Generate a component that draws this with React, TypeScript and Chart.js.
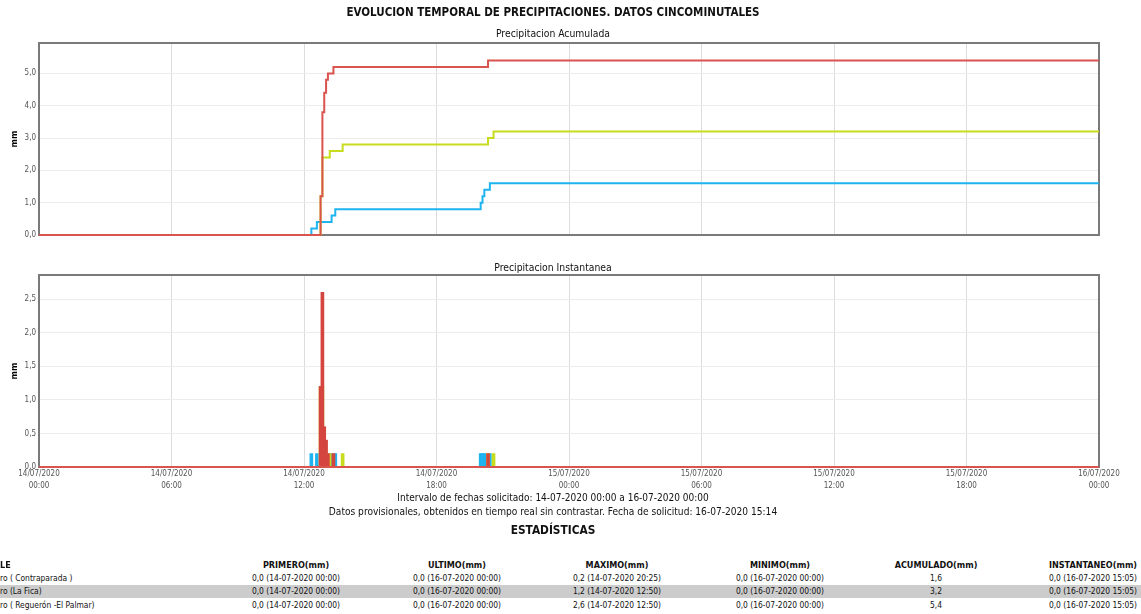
import React, { useEffect, useRef } from "react";
import { Chart, registerables } from "chart.js";

Chart.register(...registerables);

// ---- data (time as "HH:MM" counted from 14/07/2020 00:00) ----
const xTickHours = [0, 6, 12, 18, 24, 30, 36, 42, 48];

const redAccTimes = ["00:00", "12:45", "12:50", "12:55", "13:00", "13:05", "13:20", "20:20", "48:00"];
const redAcc = [0, 1.2, 3.8, 4.4, 4.8, 5.0, 5.2, 5.4, 5.4];
const greenAccTimes = ["00:00", "12:45", "12:50", "13:10", "13:45", "20:20", "20:35", "48:00"];
const greenAcc = [0, 1.2, 2.4, 2.6, 2.8, 3.0, 3.2, 3.2];
const blueAccTimes = ["00:00", "12:20", "12:35", "13:15", "13:25", "20:00", "20:05", "20:10", "20:25", "48:00"];
const blueAcc = [0, 0.2, 0.4, 0.6, 0.8, 1.0, 1.2, 1.4, 1.6, 1.6];

const redInstTimes = ["12:45", "12:50", "12:55", "13:00", "13:05", "13:20", "20:20"];
const redInst = [1.2, 2.6, 0.6, 0.4, 0.2, 0.2, 0.2];
const greenInstTimes = ["12:45", "12:50", "13:10", "13:45", "20:20", "20:35"];
const greenInst = [1.2, 1.2, 0.2, 0.2, 0.2, 0.2];
const blueInstTimes = ["12:20", "12:35", "13:15", "13:25", "20:00", "20:05", "20:10", "20:25"];
const blueInst = [0.2, 0.2, 0.2, 0.2, 0.2, 0.2, 0.2, 0.2];

const tableHeaders = ["LE", "PRIMERO(mm)", "ULTIMO(mm)", "MAXIMO(mm)", "MINIMO(mm)", "ACUMULADO(mm)", "INSTANTANEO(mm)"];
const tableRow1 = ["ro ( Contraparada )", "0,0 (14-07-2020 00:00)", "0,0 (16-07-2020 00:00)", "0,2 (14-07-2020 20:25)", "0,0 (16-07-2020 00:00)", "1,6", "0,0 (16-07-2020 15:05)"];
const tableRow2 = ["ro (La Fica)", "0,0 (14-07-2020 00:00)", "0,0 (16-07-2020 00:00)", "1,2 (14-07-2020 12:50)", "0,0 (16-07-2020 00:00)", "3,2", "0,0 (16-07-2020 15:05)"];
const tableRow3 = ["ro ( Reguerón -El Palmar)", "0,0 (14-07-2020 00:00)", "0,0 (16-07-2020 00:00)", "2,6 (14-07-2020 12:50)", "0,0 (16-07-2020 00:00)", "5,4", "0,0 (16-07-2020 15:05)"];

const RED = "#d9534f";
const GREEN = "#c8dc1e";
const BLUE = "#1eb4f0";
const FONT = "'DejaVu Sans Condensed', 'DejaVu Sans', Tahoma, sans-serif";

const toMin = (s: string) => {
  const [h, m] = s.split(":").map(Number);
  return h * 60 + m;
};
const pts = (times: string[], vals: number[]) => times.map((t, i) => ({ x: toMin(t), y: vals[i] }));
const comma = (v: number) => v.toFixed(1).replace(".", ",");

const frame = {
  id: "frame",
  beforeDatasetsDraw(chart: any) {
    const { ctx, chartArea: a } = chart;
    ctx.save();
    ctx.strokeStyle = "#7a7a7a";
    ctx.lineWidth = 2;
    ctx.strokeRect(a.left, a.top, a.right - a.left, a.bottom - a.top);
    ctx.restore();
  },
};

const xScale = (showLabels: boolean, h: number) => ({
  type: "linear",
  min: 0,
  max: 2880,
  offset: false,
  afterBuildTicks: (s: any) => {
    s.ticks = xTickHours.map((hh) => ({ value: hh * 60 }));
  },
  afterFit: (s: any) => {
    s.height = h;
  },
  grid: { color: "#dcdcdc", drawTicks: false, offset: false },
  border: { display: false },
  ticks: {
    display: showLabels,
    autoSkip: false,
    maxRotation: 0,
    padding: 1,
    color: "#555",
    font: { family: FONT, size: 8, lineHeight: 1.5 },
    callback: (v: number) => {
      const day = 14 + Math.floor(v / 1440);
      const hr = Math.floor((v % 1440) / 60);
      return [`${day}/07/2020`, `${String(hr).padStart(2, "0")}:00`];
    },
  },
});

const yScale = (max: number, step: number) => ({
  min: 0,
  max,
  afterFit: (s: any) => {
    s.width = 39;
  },
  grid: { color: "#ececec", drawTicks: false },
  border: { display: false },
  ticks: {
    stepSize: step,
    includeBounds: false,
    padding: 3,
    color: "#555",
    font: { family: FONT, size: 8 },
    callback: (v: number) => comma(v),
  },
});

function TopChart() {
  const ref = useRef<HTMLCanvasElement>(null);
  useEffect(() => {
    const lineDs = (data: any, color: string) => ({
      data,
      borderColor: color,
      borderWidth: 2,
      stepped: true,
      pointRadius: 0,
      fill: false,
      clip: false,
    });
    const chart = new Chart(ref.current!, {
      type: "line",
      data: {
        datasets: [
          lineDs(pts(redAccTimes, redAcc), RED),
          lineDs(pts(greenAccTimes, greenAcc), GREEN),
          lineDs(pts(blueAccTimes, blueAcc), BLUE),
        ],
      },
      options: {
        responsive: false,
        animation: false,
        layout: { padding: { top: 43, right: 42, left: 0, bottom: 0 } },
        plugins: { legend: { display: false }, tooltip: { enabled: false } },
        scales: { x: xScale(false, 10) as any, y: yScale(5.94, 1) as any },
      },
      plugins: [frame],
    });
    return () => chart.destroy();
  }, []);
  return <canvas ref={ref} width={1141} height={245} style={{ position: "absolute", left: 0, top: 0 }} />;
}

function BottomChart() {
  const ref = useRef<HTMLCanvasElement>(null);
  useEffect(() => {
    const barDs = (data: any, color: string) => ({
      type: "bar",
      data,
      backgroundColor: color,
      barThickness: 3,
      grouped: false,
    });
    const chart = new Chart(ref.current!, {
      type: "bar",
      data: {
        datasets: [
          {
            type: "line",
            data: [{ x: 0, y: 0 }, { x: 2880, y: 0 }],
            borderColor: RED,
            borderWidth: 2,
            pointRadius: 0,
            clip: false,
          } as any,
          barDs(pts(redInstTimes, redInst), "#d5453f"),
          barDs(pts(greenInstTimes, greenInst), GREEN),
          barDs(pts(blueInstTimes, blueInst), BLUE),
        ],
      },
      options: {
        responsive: false,
        animation: false,
        layout: { padding: { top: 35, right: 42, left: 0, bottom: 0 } },
        plugins: { legend: { display: false }, tooltip: { enabled: false } },
        scales: { x: xScale(true, 33) as any, y: yScale(2.86, 0.5) as any },
      },
      plugins: [frame],
    });
    return () => chart.destroy();
  }, []);
  return <canvas ref={ref} width={1141} height={260} style={{ position: "absolute", left: 0, top: 240 }} />;
}

const Txt = ({ x, y, size, bold, children, color }: any) => (
  <div
    style={{
      position: "absolute",
      left: x,
      top: y,
      transform: "translate(-50%, -50%)",
      whiteSpace: "nowrap",
      fontFamily: FONT,
      fontSize: size,
      fontWeight: bold ? "bold" : "normal",
      color: color || "#111",
      lineHeight: 1,
    }}
  >
    {children}
  </div>
);

const colCenters = [0, 296, 457, 617, 780, 936, 1093];
const rowYs = [565, 578, 591, 605];

function Row({ cells, y, bold }: any) {
  const size = bold ? 9 : 8.4;
  return (
    <>
      {cells.map((c: string, i: number) =>
        i === 0 ? (
          <div
            key={i}
            style={{
              position: "absolute",
              left: 0,
              top: y,
              transform: "translateY(-50%)",
              whiteSpace: "nowrap",
              fontFamily: FONT,
              fontSize: size,
              fontWeight: bold ? "bold" : "normal",
              color: "#111",
              lineHeight: 1,
            }}
          >
            {c}
          </div>
        ) : (
          <Txt key={i} x={colCenters[i]} y={y} size={size} bold={bold}>
            {c}
          </Txt>
        )
      )}
    </>
  );
}

export default function App() {
  return (
    <div style={{ position: "fixed", left: 0, top: 0, width: 1141, height: 614, overflow: "hidden", background: "#fff" }}>
      <TopChart />
      <BottomChart />
      <Txt x={553} y={13} size={11.5} bold>
        EVOLUCION TEMPORAL DE PRECIPITACIONES. DATOS CINCOMINUTALES
      </Txt>
      <Txt x={553} y={33} size={10.3}>Precipitacion Acumulada</Txt>
      <Txt x={553} y={267} size={10.3}>Precipitacion Instantanea</Txt>
      <div style={{ position: "absolute", left: 14, top: 139, transform: "translate(-50%,-50%) rotate(-90deg)", fontFamily: FONT, fontSize: 9, fontWeight: "bold", lineHeight: 1 }}>mm</div>
      <div style={{ position: "absolute", left: 14, top: 371, transform: "translate(-50%,-50%) rotate(-90deg)", fontFamily: FONT, fontSize: 9, fontWeight: "bold", lineHeight: 1 }}>mm</div>
      <Txt x={553} y={498} size={10}>Intervalo de fechas solicitado: 14-07-2020 00:00 a 16-07-2020 00:00</Txt>
      <Txt x={553} y={512} size={10.1}>Datos provisionales, obtenidos en tiempo real sin contrastar. Fecha de solicitud: 16-07-2020 15:14</Txt>
      <Txt x={553} y={531} size={11.8} bold>ESTADÍSTICAS</Txt>
      <div style={{ position: "absolute", left: 0, top: 585, width: 1141, height: 13, background: "#cccccc" }} />
      <Row cells={tableHeaders} y={rowYs[0]} bold />
      <Row cells={tableRow1} y={rowYs[1]} />
      <Row cells={tableRow2} y={rowYs[2]} />
      <Row cells={tableRow3} y={rowYs[3]} />
    </div>
  );
}
